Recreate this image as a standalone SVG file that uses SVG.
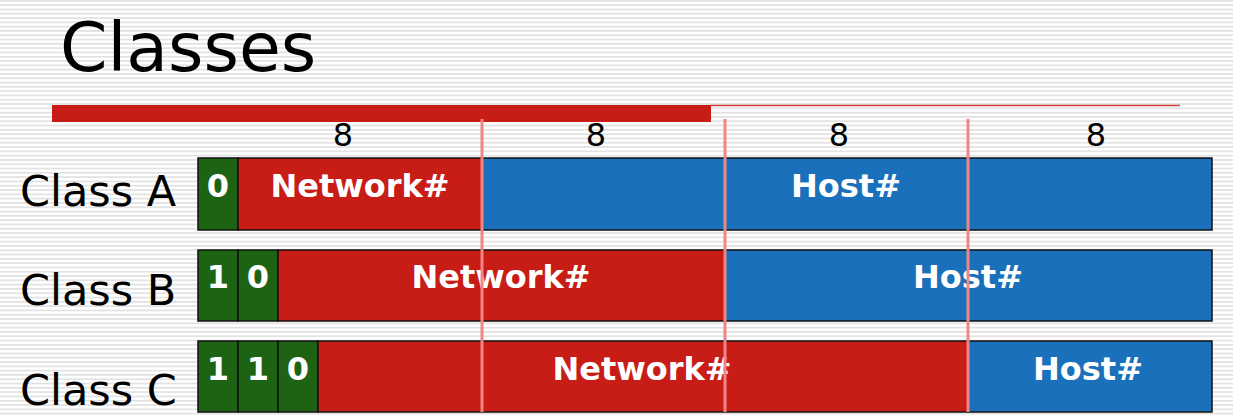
<svg xmlns="http://www.w3.org/2000/svg" width="1233" height="416" viewBox="0 0 1233 416">
<defs>
<pattern id="stripes" width="8" height="4.3" patternUnits="userSpaceOnUse">
<rect width="8" height="4.3" fill="#ffffff"/>
<rect y="0" width="8" height="1.6" fill="#e0e0e0"/>
</pattern>
</defs>
<style>
.g{fill:#1e6314;stroke:#111;stroke-width:1.5}
.r{fill:#c81c16;stroke:#111;stroke-width:1.5}
.b{fill:#1a70ba;stroke:#111;stroke-width:1.5}
.w{fill:#fff;font-family:"DejaVu Sans",Verdana,sans-serif;font-weight:bold;font-size:32px;text-anchor:middle}
.lbl{fill:#000;font-family:"DejaVu Sans",Verdana,sans-serif;font-size:43px}
.n{fill:#000;font-family:"DejaVu Sans",Verdana,sans-serif;font-size:32px;text-anchor:middle}
.v{stroke:#f08585;stroke-width:3}
</style>
<rect width="1233" height="416" fill="url(#stripes)"/>
<text x="60" y="71" style="font-family:'DejaVu Sans',Verdana,sans-serif;font-size:68px;fill:#000">Classes</text>
<rect x="52" y="105" width="659" height="17" fill="#c81c16"/>
<line x1="711" y1="105.5" x2="1180" y2="105.5" stroke="#d94040" stroke-width="1.5"/>
<g id="bits">
<text class="n" x="343" y="146">8</text>
<text class="n" x="596" y="146">8</text>
<text class="n" x="839" y="146">8</text>
<text class="n" x="1096" y="146">8</text>
</g>
<g id="classA">
<text class="lbl" x="20" y="206">Class A</text>
<rect class="g" x="198" y="158" width="40" height="72"/>
<rect class="r" x="238" y="158" width="244" height="72"/>
<rect class="b" x="482" y="158" width="730" height="72"/>
<text class="w" x="218" y="197">0</text>
<text class="w" x="360" y="197">Network#</text>
<text class="w" x="846" y="197">Host#</text>
</g>
<g id="classB">
<text class="lbl" x="20" y="305">Class B</text>
<rect class="g" x="198" y="250" width="40" height="71"/>
<rect class="g" x="238" y="250" width="40" height="71"/>
<rect class="r" x="278" y="250" width="447" height="71"/>
<rect class="b" x="725" y="250" width="487" height="71"/>
<text class="w" x="218" y="288">1</text>
<text class="w" x="258" y="288">0</text>
<text class="w" x="501" y="288">Network#</text>
<text class="w" x="968" y="288">Host#</text>
</g>
<g id="classC">
<text class="lbl" x="20" y="405">Class C</text>
<rect class="g" x="198" y="341" width="40" height="71"/>
<rect class="g" x="238" y="341" width="40" height="71"/>
<rect class="g" x="278" y="341" width="40" height="71"/>
<rect class="r" x="318" y="341" width="650" height="71"/>
<rect class="b" x="968" y="341" width="244" height="71"/>
<text class="w" x="218" y="380">1</text>
<text class="w" x="258" y="380">1</text>
<text class="w" x="298" y="380">0</text>
<text class="w" x="642" y="380">Network#</text>
<text class="w" x="1088" y="380">Host#</text>
</g>
<g id="connectors">
<line class="v" x1="482" y1="119" x2="482" y2="412"/>
<line class="v" x1="725" y1="119" x2="725" y2="412"/>
<line class="v" x1="968" y1="119" x2="968" y2="412"/>
</g>
</svg>
